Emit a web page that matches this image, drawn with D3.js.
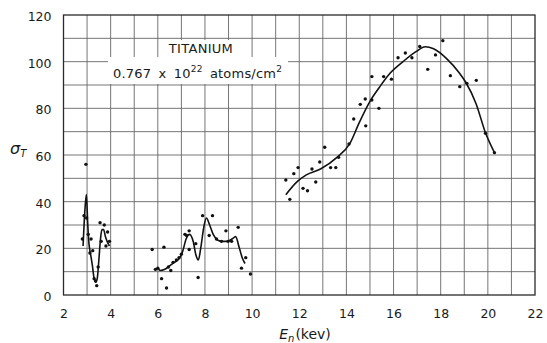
<!DOCTYPE html>
<html>
<head>
<meta charset="utf-8">
<script src="https://cdn.jsdelivr.net/npm/d3@7"></script>
<style>
  html, body { margin: 0; padding: 0; background: #fff; }
  svg { display: block; }
  text { font-family: "DejaVu Sans", "Liberation Sans", sans-serif; fill: #1a1a1a; }
</style>
</head>
<body>
<svg id="chart" width="547" height="343"></svg>
<script>
// Total cross section of titanium vs neutron energy
const xTicks = [2, 4, 6, 8, 10, 12, 14, 16, 18, 20, 22];
const yTicks = [0, 20, 40, 60, 80, 100, 120];

// measured points, [E_n (kev), sigma_T]
const pointsLow = [
  [2.80, 24], [2.87, 34], [2.95, 56], [2.98, 33], [3.05, 26], [3.12, 18],
  [3.17, 24], [3.24, 19], [3.30, 7], [3.36, 6], [3.41, 4], [3.47, 12],
  [3.55, 31], [3.60, 23], [3.73, 30], [3.80, 21], [3.87, 27], [3.95, 23]
];
const pointsMid = [
  [5.76, 19.5], [5.90, 11], [6.00, 11.5], [6.16, 7], [6.26, 20.5], [6.37, 3],
  [6.45, 12], [6.55, 10.5], [6.65, 14], [6.79, 15], [6.90, 16], [7.00, 17.5],
  [7.15, 26], [7.22, 25.5], [7.33, 27.5], [7.33, 19.5], [7.61, 22], [7.71, 7.5],
  [7.90, 34], [8.18, 25.5], [8.32, 34], [8.49, 24], [8.70, 23], [8.89, 27.5],
  [8.98, 23], [9.13, 23], [9.41, 29], [9.55, 11.5], [9.73, 16], [9.93, 9]
];
const pointsHigh = [
  [11.43, 49.3], [11.60, 41], [11.77, 52], [11.95, 54.6], [12.16, 45.7], [12.35, 44.7],
  [12.54, 54], [12.70, 48.4], [12.87, 57], [13.08, 63.3], [13.33, 54.6], [13.55, 54.6],
  [13.67, 59], [14.11, 64.7], [14.31, 75.4], [14.59, 81.7], [14.80, 84], [14.82, 72.5],
  [15.08, 83.6], [15.08, 93.6], [15.38, 80], [15.58, 93.6], [15.91, 92.5], [16.19, 101.7],
  [16.50, 103.7], [16.78, 101.7], [17.11, 106.5], [17.45, 96.7], [17.78, 102.9], [18.09, 109],
  [18.41, 94], [18.81, 89.3], [19.11, 90.7], [19.51, 92], [19.90, 69.3], [20.28, 61]
];

// hand-faired curves through each group
const curveLow = [
  [2.83, 21], [2.90, 35], [2.97, 43], [3.03, 30], [3.08, 22], [3.14, 18],
  [3.22, 13], [3.30, 7], [3.37, 5.5], [3.43, 7], [3.50, 15], [3.57, 24],
  [3.63, 28], [3.70, 28], [3.78, 25], [3.85, 23], [3.95, 21]
];
const curveMid = [
  [5.88, 10.5], [6.00, 11.5], [6.10, 10.5], [6.30, 11], [6.50, 12.5], [6.70, 14],
  [6.90, 15.5], [7.05, 18.5], [7.20, 24], [7.35, 26], [7.50, 23], [7.62, 17],
  [7.72, 15], [7.82, 20], [7.95, 29], [8.06, 33], [8.20, 30], [8.35, 26],
  [8.55, 23.5], [8.75, 23], [8.95, 23], [9.15, 24], [9.30, 25], [9.45, 20.5],
  [9.58, 16], [9.70, 13.5]
];
const curveHigh = [
  [11.43, 43], [11.90, 48.5], [12.30, 51.5], [12.90, 54], [13.60, 59], [14.15, 65],
  [14.55, 74], [15.00, 83], [15.40, 89], [15.85, 95], [16.40, 100], [16.95, 104.3],
  [17.35, 106.4], [17.70, 105.5], [18.24, 101.4], [18.80, 95], [19.05, 91.4],
  [19.50, 82], [19.90, 69.5], [20.28, 61]
];

const svg = d3.select("#chart");
const plotL = 63.5, plotR = 535, plotT = 15, plotB = 295;

const x = d3.scaleLinear().domain([2, 22]).range([plotL, plotR]);
const y = d3.scaleLinear().domain([0, 120]).range([plotB, plotT]);

// grid: every 1 kev and every 10 units
const grid = svg.append("g").attr("stroke", "#666").attr("stroke-width", 0.9);
grid.selectAll("line.v").data(d3.range(3, 22)).join("line").attr("class", "v")
  .attr("x1", d => x(d)).attr("x2", d => x(d))
  .attr("y1", plotT).attr("y2", plotB);
grid.selectAll("line.h").data(d3.range(10, 120, 10)).join("line").attr("class", "h")
  .attr("x1", plotL).attr("x2", plotR)
  .attr("y1", d => y(d)).attr("y2", d => y(d));

// frame
svg.append("rect")
  .attr("x", plotL).attr("y", plotT)
  .attr("width", plotR - plotL).attr("height", plotB - plotT)
  .attr("fill", "none").attr("stroke", "#2a2a2a").attr("stroke-width", 1.3);

// axes (labels only, the grid carries the ticks)
const xAxis = svg.append("g").attr("transform", `translate(0,${plotB})`)
  .call(d3.axisBottom(x).tickValues(xTicks).tickSize(0).tickPadding(14).tickFormat(d3.format("d")));
const yAxis = svg.append("g").attr("transform", `translate(${plotL},0)`)
  .call(d3.axisLeft(y).tickValues(yTicks).tickSize(0).tickPadding(12).tickFormat(d3.format("d")));
[xAxis, yAxis].forEach(a => {
  a.select(".domain").remove();
  a.selectAll("text").attr("font-size", 12.5).attr("fill", "#1a1a1a")
    .attr("font-family", "DejaVu Sans, sans-serif");
});
yAxis.selectAll("text").attr("dy", "0.45em");

// annotation with paper backing behind it
const note = svg.append("g");
note.append("rect").attr("x", 166).attr("y", 40).attr("width", 74).attr("height", 17).attr("fill", "#fff");
note.append("rect").attr("x", 108).attr("y", 57).attr("width", 180).attr("height", 27).attr("fill", "#fff");
note.append("text").attr("x", 201).attr("y", 53).attr("text-anchor", "middle")
  .attr("font-size", 13).attr("font-family", "Liberation Sans, sans-serif")
  .attr("letter-spacing", 0.3).text("TITANIUM");
const l2 = note.append("text").attr("x", 113).attr("y", 78)
  .attr("font-size", 13).attr("font-family", "Liberation Sans, sans-serif")
  .attr("letter-spacing", 0.2).attr("word-spacing", 3);
l2.append("tspan").text("0.767 x 10");
l2.append("tspan").attr("font-size", 9).attr("dy", -6).text("22");
l2.append("tspan").attr("dy", 6).text(" atoms/cm");
l2.append("tspan").attr("font-size", 9).attr("dy", -6).text("2");

// curves
const line = d3.line().x(d => x(d[0])).y(d => y(d[1])).curve(d3.curveMonotoneX);
svg.append("g").selectAll("path").data([curveLow, curveMid, curveHigh]).join("path")
  .attr("d", line).attr("fill", "none").attr("stroke", "#111")
  .attr("stroke-width", 1.6).attr("stroke-linejoin", "round");

// points
svg.append("g").selectAll("circle").data(pointsLow.concat(pointsMid, pointsHigh)).join("circle")
  .attr("cx", d => x(d[0])).attr("cy", d => y(d[1])).attr("r", 1.7).attr("fill", "#111");

// axis titles
const yt = svg.append("text").attr("x", 10).attr("y", 154).attr("font-size", 16)
  .attr("font-family", "DejaVu Serif, serif").attr("font-style", "italic");
yt.append("tspan").text("σ");
yt.append("tspan").attr("font-size", 10).attr("dy", 3).text("T");

const xt = svg.append("text").attr("x", 305).attr("y", 339).attr("text-anchor", "middle")
  .attr("font-size", 14);
xt.append("tspan").attr("font-style", "italic").text("E");
xt.append("tspan").attr("font-style", "italic").attr("font-size", 10).attr("dy", 3).text("n");
xt.append("tspan").attr("dy", -3).attr("dx", 1).text("(kev)");
</script>
</body>
</html>
